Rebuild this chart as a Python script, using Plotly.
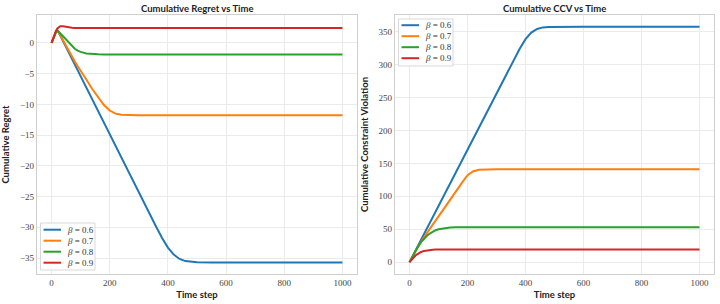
import plotly.graph_objects as go
from plotly.subplots import make_subplots

t = [0, 5, 10, 15, 20, 25, 30, 40, 50, 60, 70, 80, 90, 100, 120, 140, 160, 180, 200, 220,
     240, 260, 280, 300, 320, 340, 360, 380, 400, 420, 440, 460, 480, 500, 550, 600, 700, 800, 900, 1000]

labels = ["<i>β</i> = 0.6", "<i>β</i> = 0.7", "<i>β</i> = 0.8", "<i>β</i> = 0.9"]
colors = ["#1f77b4", "#ff7f0e", "#2ca02c", "#d62728"]

regret_06 = [0, 0.6, 1.2, 1.75, 2.05, 1.7, 1.2, 0.25, -0.7, -1.65, -2.6, -3.55, -4.5, -5.4, -7.3, -9.2, -11.1, -13.0, -14.85, -16.75,
             -18.65, -20.5, -22.4, -24.3, -26.2, -28.1, -29.95, -31.75, -33.3, -34.45, -35.15, -35.5, -35.65, -35.7, -35.72, -35.72, -35.72, -35.72, -35.72, -35.72]
regret_07 = [0, 0.6, 1.2, 1.75, 2.05, 1.75, 1.3, 0.4, -0.5, -1.35, -2.2, -3.0, -3.8, -4.6, -6.0, -7.5, -8.9, -10.1, -11.0, -11.5,
             -11.7, -11.76, -11.78, -11.78, -11.78, -11.78, -11.78, -11.78, -11.78, -11.78, -11.78, -11.78, -11.78, -11.78, -11.78, -11.78, -11.78, -11.78, -11.78, -11.78]
regret_08 = [0, 0.6, 1.2, 1.75, 2.05, 1.8, 1.5, 0.95, 0.4, -0.1, -0.55, -0.95, -1.25, -1.45, -1.7, -1.8, -1.85, -1.86, -1.87, -1.87,
             -1.87, -1.87, -1.87, -1.87, -1.87, -1.87, -1.87, -1.87, -1.87, -1.87, -1.87, -1.87, -1.87, -1.87, -1.87, -1.87, -1.87, -1.87, -1.87, -1.87]
regret_09 = [0, 0.7, 1.35, 1.95, 2.35, 2.6, 2.72, 2.7, 2.6, 2.52, 2.47, 2.44, 2.42, 2.42, 2.42, 2.42, 2.42, 2.42, 2.42, 2.42,
             2.42, 2.42, 2.42, 2.42, 2.42, 2.42, 2.42, 2.42, 2.42, 2.42, 2.42, 2.42, 2.42, 2.42, 2.42, 2.42, 2.42, 2.42, 2.42, 2.42]

ccv_06 = [0, 4.25, 8.5, 12.75, 17, 21.25, 25.5, 34, 42.5, 51, 59.5, 68, 76.5, 85, 102, 119, 136, 153, 170, 187,
          204, 221, 238, 255, 272, 289, 306, 324, 338.5, 348.5, 354, 356.3, 357, 357.2, 357.3, 357.3, 357.3, 357.3, 357.3, 357.3]
ccv_07 = [0, 4.2, 8.3, 12.3, 16.2, 20, 23.8, 31, 38, 44.5, 51, 57, 63, 69.5, 82, 94.5, 107, 120, 132, 138,
          140.3, 140.8, 141, 141, 141, 141, 141, 141, 141, 141, 141, 141, 141, 141, 141, 141, 141, 141, 141, 141]
ccv_08 = [0, 4.2, 8.4, 12.5, 16.5, 20.3, 24, 30.5, 35.8, 40, 43.5, 46.3, 48.5, 50.1, 52, 52.8, 53.1, 53.2, 53.2, 53.2,
          53.2, 53.2, 53.2, 53.2, 53.2, 53.2, 53.2, 53.2, 53.2, 53.2, 53.2, 53.2, 53.2, 53.2, 53.2, 53.2, 53.2, 53.2, 53.2, 53.2]
ccv_09 = [0, 2.8, 5.5, 7.8, 9.8, 11.6, 13.1, 15.5, 17.1, 18.1, 18.7, 19.0, 19.2, 19.3, 19.4, 19.4, 19.4, 19.4, 19.4, 19.4,
          19.4, 19.4, 19.4, 19.4, 19.4, 19.4, 19.4, 19.4, 19.4, 19.4, 19.4, 19.4, 19.4, 19.4, 19.4, 19.4, 19.4, 19.4, 19.4, 19.4]

regret_series = [regret_06, regret_07, regret_08, regret_09]
ccv_series = [ccv_06, ccv_07, ccv_08, ccv_09]

W, H = 720, 304
M_T, M_B = 15, 30

fig = make_subplots(rows=1, cols=2)

for lab, col, ys in zip(labels, colors, regret_series):
    fig.add_trace(go.Scatter(x=t, y=ys, mode="lines", name=lab, line=dict(color=col, width=2),
                             showlegend=False), row=1, col=1)
for lab, col, ys in zip(labels, colors, ccv_series):
    fig.add_trace(go.Scatter(x=t, y=ys, mode="lines", name=lab, line=dict(color=col, width=2),
                             showlegend=False), row=1, col=2)

tick_font = dict(family="Liberation Serif, DejaVu Serif, serif", size=9, color="#444444")
title_font = dict(family="Lato, DejaVu Sans, sans-serif", size=9.5, color="#222222")
axis_title_font = dict(family="Lato, DejaVu Sans, sans-serif", size=9.5, color="#222222")
legend_font = dict(family="Liberation Serif, DejaVu Serif, serif", size=9, color="#333333")

axis_common = dict(showgrid=True, gridcolor="#ebebeb", gridwidth=1, zeroline=False,
                   showline=True, linecolor="#cfcfcf", linewidth=1.2, mirror=True,
                   ticks="", tickfont=tick_font, automargin=False)

fig.update_xaxes(**axis_common, range=[-50, 1050], tickvals=[0, 200, 400, 600, 800, 1000],
                 title=dict(text="<b>Time step</b>", font=axis_title_font, standoff=4))
fig.update_xaxes(domain=[37 / W, 357 / W], row=1, col=1)
fig.update_xaxes(domain=[395 / W, 714 / W], row=1, col=2)
fig.update_yaxes(**axis_common)
fig.update_yaxes(domain=[0, 1])
fig.update_yaxes(range=[-37.6, 4.55], dtick=5, row=1, col=1,
                 title=dict(text="<b>Cumulative Regret</b>", font=axis_title_font, standoff=8))
fig.update_yaxes(range=[-17.9, 375.1], dtick=50, row=1, col=2,
                 title=dict(text="<b>Cumulative Constraint Violation</b>", font=axis_title_font, standoff=8))


def px_x(p):
    return p / W


def px_y(p):
    return (H - M_B - p) / (H - M_T - M_B)


shapes = []
annotations = [
    dict(text="<b>Cumulative Regret vs Time</b>", x=(37 + 357) / 2 / W, y=1, yshift=7,
         xref="paper", yref="paper", showarrow=False, xanchor="center", yanchor="middle",
         font=title_font),
    dict(text="<b>Cumulative CCV vs Time</b>", x=(395 + 714) / 2 / W, y=1, yshift=7,
         xref="paper", yref="paper", showarrow=False, xanchor="center", yanchor="middle",
         font=title_font),
]

# compact matplotlib-style legends, one per panel
legend_boxes = [
    dict(x0=40.5, x1=95, y0=223, y1=270, line_x0=43.5, line_x1=61, text_x=65, first_y=229.7),
    dict(x0=398.5, x1=453, y0=19, y1=66, line_x0=401.5, line_x1=419, text_x=423, first_y=25.2),
]
row_gap = 11
for box in legend_boxes:
    shapes.append(dict(type="rect", xref="paper", yref="paper",
                       x0=px_x(box["x0"]), x1=px_x(box["x1"]),
                       y0=px_y(box["y1"]), y1=px_y(box["y0"]),
                       line=dict(color="#d9d9d9", width=1), fillcolor="rgba(255,255,255,0.85)",
                       layer="above"))
    for i, (lab, col) in enumerate(zip(labels, colors)):
        yy = box["first_y"] + i * row_gap
        shapes.append(dict(type="line", xref="paper", yref="paper",
                           x0=px_x(box["line_x0"]), x1=px_x(box["line_x1"]),
                           y0=px_y(yy), y1=px_y(yy),
                           line=dict(color=col, width=2), layer="above"))
        annotations.append(dict(text=lab, xref="paper", yref="paper",
                                x=px_x(box["text_x"]), y=px_y(yy),
                                xanchor="left", yanchor="middle", showarrow=False,
                                font=legend_font))

fig.update_layout(
    width=W, height=H,
    margin=dict(l=0, r=0, t=M_T, b=M_B, autoexpand=False),
    paper_bgcolor="white", plot_bgcolor="white",
    showlegend=False,
    shapes=shapes,
    annotations=annotations,
)

fig.write_html("out.html", config={"displayModeBar": False},
               post_script="document.body.style.margin='0';document.body.style.overflow='hidden';")
